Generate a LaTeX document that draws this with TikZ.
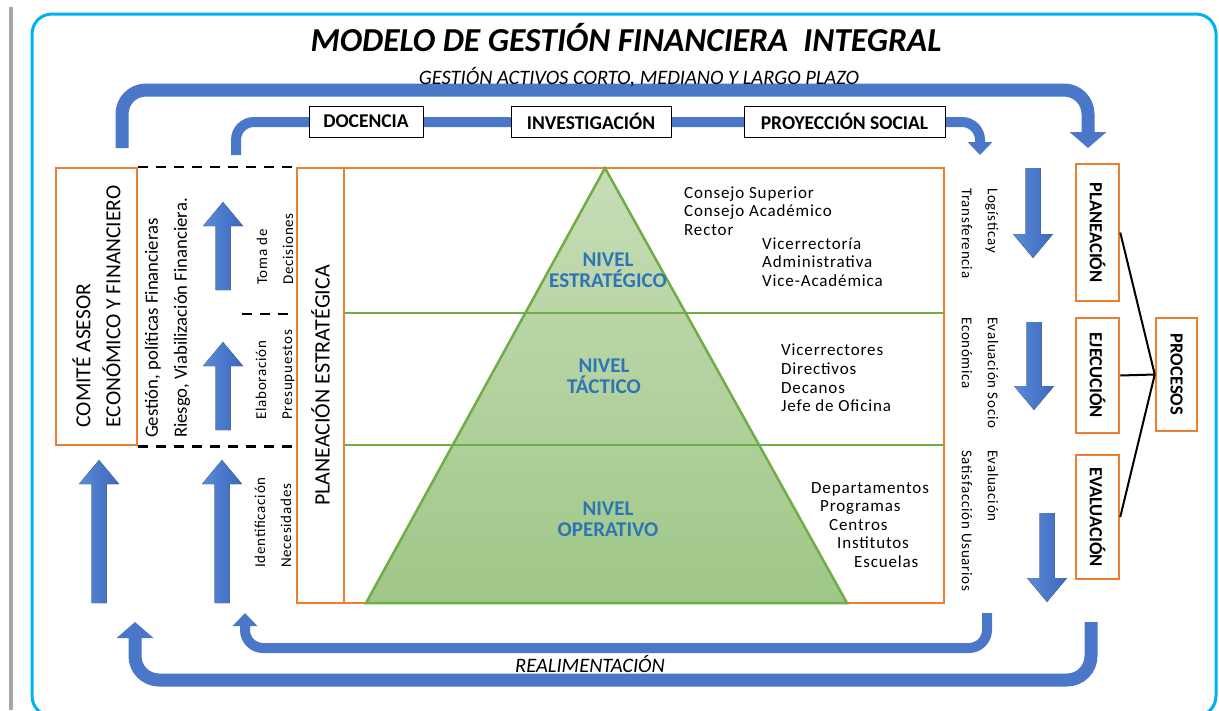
\documentclass[tikz,border=0pt]{standalone}
\usepackage{fontspec}
\setmainfont{Carlito}
\newfontfamily\spacedfont[LetterSpace=5]{Carlito}
\newfontfamily\listfont[LetterSpace=5]{Carlito}
\usepackage{tikz}
\usetikzlibrary{arrows.meta,positioning}
\definecolor{FrameCyan}{HTML}{00B0F0}
\definecolor{BoxOrange}{HTML}{ED7D31}
\definecolor{LineGreen}{HTML}{70AD47}
\definecolor{PyrTop}{HTML}{C7DDB6}
\definecolor{PyrBottom}{HTML}{9FC788}
\definecolor{FlowBlue}{HTML}{4A77C8}
\definecolor{FlowLight}{HTML}{5B8BD6}
\definecolor{FlowDark}{HTML}{3B67BE}
\definecolor{LevelBlue}{HTML}{2E75B6}
\definecolor{BarGray}{HTML}{A6A6A6}
\tikzset{
    % Orange outline boxes
    orangebox/.style={
        draw=BoxOrange,
        line width=2.5pt,
        inner sep=0pt
    },
    % Process boxes on the right (text turned)
    procbox/.style={
        orangebox,
        fill=white,
        rotate=-90,
        minimum height=43pt,
        font=\fontsize{18.5}{20}\selectfont\bfseries
    },
    % Boxes sitting on the inner flow
    axisbox/.style={
        draw=black,
        fill=white,
        line width=1pt,
        minimum height=31pt,
        font=\fontsize{19.5}{22}\selectfont\bfseries
    },
    % Thick flow arrows
    bigflow/.style={
        draw=FlowBlue,
        line width=13pt,
        rounded corners=24pt,
        -{Triangle[width=36pt,length=16pt]}
    },
    smallflow/.style={
        draw=FlowBlue,
        line width=10pt,
        rounded corners=18pt,
        -{Triangle[width=24pt,length=13pt]}
    },
    % Dashed separators
    dashline/.style={
        draw=black,
        line width=2.5pt,
        dash pattern=on 10pt off 8pt
    },
    levelline/.style={
        draw=LineGreen,
        line width=2.5pt
    },
    procline/.style={
        draw=black,
        line width=2pt
    },
    pyramid/.style={
        draw=LineGreen,
        line width=2.5pt,
        top color=PyrTop,
        bottom color=PyrBottom
    },
    % Turned texts
    uptext/.style={
        rotate=90,
        anchor=west,
        align=left,
        inner sep=0pt
    },
    downtext/.style={
        rotate=-90,
        anchor=west,
        align=left,
        inner sep=0pt,
        font=\spacedfont\fontsize{15}{26}\selectfont
    },
    smalltext/.style={
        uptext,
        font=\spacedfont\fontsize{15}{26}\selectfont
    },
    orgtext/.style={
        anchor=west,
        align=left,
        inner sep=0pt,
        font=\listfont\fontsize{17}{18.6}\selectfont
    },
    leveltext/.style={
        align=center,
        text=LevelBlue,
        font=\fontsize{21}{21}\selectfont\bfseries
    },
    titletext/.style={
        font=\fontsize{33.5}{38}\selectfont\bfseries\itshape
    },
    % Block arrow, tail at the origin, pointing up
    pics/blockup/.style={code={
        \fill[left color=FlowLight, right color=FlowDark]
            (-7.5,0) -- (-7.5,{24-#1}) -- (-20,{24-#1}) -- (0,-#1)
            -- (20,{24-#1}) -- (7.5,{24-#1}) -- (7.5,0) -- cycle;
    }}
}
\begin{document}
\begin{tikzpicture}[x=1pt, y=-1pt]
    \useasboundingbox (0,0) rectangle (1219,710);

    % frame
    \draw[BarGray, line width=4pt] (11,7) -- (11,710);
    \draw[FrameCyan, line width=3pt, rounded corners=20pt] (32,14) rectangle (1216,716);

    % title
    \node[titletext] (title) at (626,38) {MODELO DE GESTIÓN FINANCIERA\ \ INTEGRAL};

    % flows
    \coordinate (bigstart) at (122,148);
    \coordinate (bigtop) at (600,90);
    \coordinate (bigend) at (1088,148);
    \coordinate (smallstart) at (236,155);
    \coordinate (smalltop) at (600,122);
    \coordinate (smallend) at (980,155);
    \coordinate (feedinstart) at (987,613);
    \coordinate (feedinbottom) at (600,648);
    \coordinate (feedinend) at (245,613);
    \coordinate (feedoutstart) at (1091,622);
    \coordinate (feedoutbottom) at (600,680);
    \coordinate (feedoutend) at (135,622);

    \draw[bigflow] (bigstart) |- (bigtop) -| (bigend);
    \draw[smallflow] (smallstart) |- (smalltop) -| (smallend);
    \draw[smallflow] (feedinstart) |- (feedinbottom) -| (feedinend);
    \draw[bigflow] (feedoutstart) |- (feedoutbottom) -| (feedoutend);

    \node[font=\fontsize{20.5}{23}\selectfont\itshape] (activos) at (639,77) {GESTIÓN ACTIVOS CORTO, MEDIANO Y LARGO PLAZO};
    \node[font=\fontsize{20.5}{23}\selectfont\itshape] (realim) at (590,664) {REALIMENTACIÓN};

    \node[axisbox, minimum width=114pt] (docencia) at (366,121.5) {DOCENCIA};
    \node[axisbox, minimum width=160pt] (investigacion) at (591,121.5) {INVESTIGACIÓN};
    \node[axisbox, minimum width=201pt] (proyeccion) at (844.5,121.5) {PROYECCIÓN SOCIAL};

    % left column
    \node[orangebox, minimum width=81pt, minimum height=277pt] (comite) at (96.5,306.5) {};
    \node[uptext, anchor=center, font=\fontsize{21.5}{30}\selectfont] (comitetext) at (comite) {COMITÉ ASESOR\\ECONÓMICO Y FINANCIERO};
    \node[uptext, font=\fontsize{18.7}{29}\selectfont] (gestion) at (167.5,438) {Gestión, políticas Financieras\\Riesgo, Viabilización Financiera.};

    \node[orangebox, minimum width=47pt, minimum height=435pt] (planest) at (320.5,385.5) {};
    \node[uptext, anchor=center, font=\fontsize{22}{26}\selectfont] (planesttext) at (planest) {PLANEACIÓN ESTRATÉGICA};

    \coordinate (midcut) at (242,314);
    \draw[dashline] (comite.north east) -- (comite.north east -| planest.west);
    \draw[dashline] (comite.south east) -- (comite.south east -| planest.west);
    \draw[dashline] (midcut) -- (midcut -| planest.west);

    \node[smalltext] (toma) at (275,285) {Toma de\\Decisiones};
    \node[smalltext] (elab) at (275,420) {Elaboración\\Presupuestos};
    \node[smalltext] (ident) at (273,568) {Identificación\\Necesidades};

    \pic (upa) at (223,290) {blockup=88};
    \pic (upb) at (223,430) {blockup=88};
    \pic (upc) at (222,603) {blockup=143};
    \pic (upd) at (99,603) {blockup=143};

    % pyramid
    \node[orangebox, minimum width=600pt, minimum height=435pt] (mainbox) at (644,385.5) {};
    \filldraw[pyramid] (605,168) -- (847,603) -- (366,603) -- cycle;
    \draw[levelline] (344,313) -- (944,313);
    \draw[levelline] (344,445) -- (944,445);

    \node[leveltext] (estrategico) at (608,270) {NIVEL\\ESTRATÉGICO};
    \node[leveltext] (tactico) at (604,376) {NIVEL\\TÁCTICO};
    \node[leveltext] (operativo) at (608,519) {NIVEL\\OPERATIVO};

    \node[orgtext] (consejos) at (684,211) {Consejo Superior\\Consejo Académico\\Rector};
    \node[orgtext] (vicerrectoria) at (762,262) {Vicerrectoría\\Administrativa\\Vice-Académica};
    \node[orgtext] (directivos) at (781,378) {Vicerrectores\\Directivos\\Decanos\\Jefe de Oficina};
    \node[orgtext] (unidades) at (811,525) {Departamentos\\\hspace*{9pt}Programas\\\hspace*{18pt}Centros\\\hspace*{26pt}Institutos\\\hspace*{43pt}Escuelas};

    % right column
    \node[downtext] (logistica) at (980,188) {Logísticay\\Transferencia};
    \node[downtext] (evalsocio) at (980,317) {Evaluación Socio\\Económica};
    \node[downtext] (evalsatis) at (980,450) {Evaluación\\Satisfacción Usuarios};

    \pic[rotate=180] (downa) at (1033,168) {blockup=90};
    \pic[rotate=180] (downb) at (1034,322) {blockup=88};
    \pic[rotate=180] (downc) at (1047,513) {blockup=89};

    % turned boxes: their north is on the right
    \node[procbox, minimum width=137pt] (planeacion) at (1097.5,232.5) {PLANEACIÓN};
    \node[procbox, minimum width=115pt] (ejecucion) at (1097.5,375.5) {EJECUCIÓN};
    \node[procbox, minimum width=124pt] (evaluacion) at (1097.5,517) {EVALUACIÓN};
    \node[procbox, minimum width=113pt, minimum height=41pt] (procesos) at (1176.5,374.5) {PROCESOS};

    \draw[procline] (planeacion.north) -- (procesos.south);
    \draw[procline] (ejecucion.north) -- (procesos.south);
    \draw[procline] (evaluacion.north) -- (procesos.south);
\end{tikzpicture}
\end{document}
